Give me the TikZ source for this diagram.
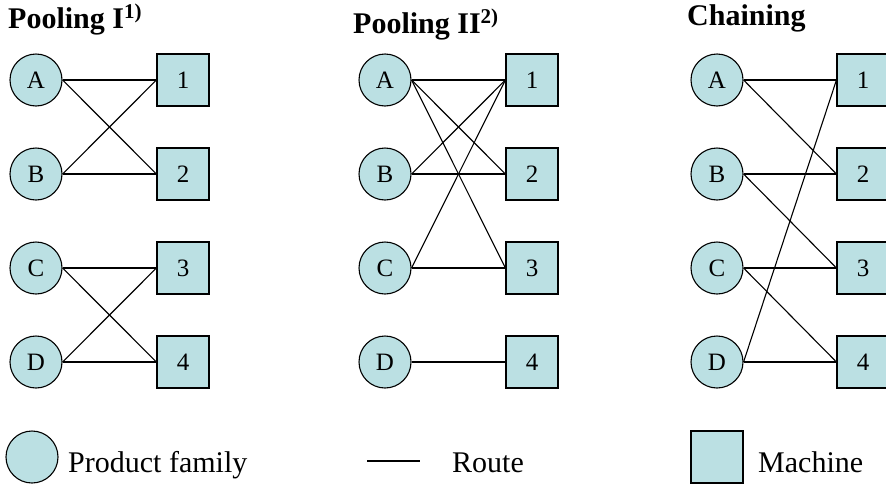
\documentclass[tikz,border=0pt]{standalone}
\usepackage{fontspec}
\setmainfont{Liberation Serif}
\definecolor{famfill}{RGB}{187,224,227}
\begin{document}
\begin{tikzpicture}[x=1pt,y=-1pt,
  fam/.style={circle,draw=black,line width=1.1pt,fill=famfill,minimum size=52pt,inner sep=0pt,font=\fontsize{25}{28}\selectfont},
  mach/.style={rectangle,draw=black,line width=1.1pt,fill=famfill,minimum width=52pt,minimum height=52pt,inner sep=0pt,font=\fontsize{25}{28}\selectfont},
  route/.style={line width=1.1pt},
  ttl/.style={anchor=base west,inner sep=0pt,font=\fontsize{30}{34}\selectfont\bfseries},
  leg/.style={anchor=base west,inner sep=0pt,font=\fontsize{30}{34}\selectfont}]
\clip (0,0) rectangle (886,485);
\useasboundingbox (0,0) rectangle (886,485);
% titles
\node[ttl] (t1) at (8,28) {Pooling I\textsuperscript{1)}};
\node[ttl] (t2) at (353,33) {Pooling II\textsuperscript{2)}};
\node[ttl] (t3) at (687,25) {Chaining};
% column 1
\node[fam] (a1) at (36,80) {A};
\node[fam] (b1) at (36,174) {B};
\node[fam] (c1) at (36,268) {C};
\node[fam] (d1) at (36,362) {D};
\node[mach] (m11) at (183,80) {1};
\node[mach] (m21) at (183,174) {2};
\node[mach] (m31) at (183,268) {3};
\node[mach] (m41) at (183,362) {4};
% column 2
\node[fam] (a2) at (385,80) {A};
\node[fam] (b2) at (385,174) {B};
\node[fam] (c2) at (385,268) {C};
\node[fam] (d2) at (385,362) {D};
\node[mach] (m12) at (532,80) {1};
\node[mach] (m22) at (532,174) {2};
\node[mach] (m32) at (532,268) {3};
\node[mach] (m42) at (532,362) {4};
% column 3
\node[fam] (a3) at (717,80) {A};
\node[fam] (b3) at (717,174) {B};
\node[fam] (c3) at (717,268) {C};
\node[fam] (d3) at (717,362) {D};
\node[mach] (m13) at (863,80) {1};
\node[mach] (m23) at (863,174) {2};
\node[mach] (m33) at (863,268) {3};
\node[mach] (m43) at (863,362) {4};
% routes column 1
\draw[route] (a1.east) -- (m11.west);
\draw[route] (a1.east) -- (m21.west);
\draw[route] (b1.east) -- (m11.west);
\draw[route] (b1.east) -- (m21.west);
\draw[route] (c1.east) -- (m31.west);
\draw[route] (c1.east) -- (m41.west);
\draw[route] (d1.east) -- (m31.west);
\draw[route] (d1.east) -- (m41.west);
% routes column 2
\draw[route] (a2.east) -- (m12.west);
\draw[route] (a2.east) -- (m22.west);
\draw[route] (a2.east) -- (m32.west);
\draw[route] (b2.east) -- (m12.west);
\draw[route] (b2.east) -- (m22.west);
\draw[route] (c2.east) -- (m12.west);
\draw[route] (c2.east) -- (m32.west);
\draw[route] (d2.east) -- (m42.west);
% routes column 3
\draw[route] (a3.east) -- (m13.west);
\draw[route] (a3.east) -- (m23.west);
\draw[route] (b3.east) -- (m23.west);
\draw[route] (b3.east) -- (m33.west);
\draw[route] (c3.east) -- (m33.west);
\draw[route] (c3.east) -- (m43.west);
\draw[route] (d3.east) -- (m13.west);
\draw[route] (d3.east) -- (m43.west);
% legend
\node[fam] (lf) at (32,457) {};
\node[leg] (lft) at (68,472) {Product family};
\coordinate (lr1) at (367,461);
\coordinate (lr2) at (420,461);
\draw[route] (lr1) -- (lr2);
\node[leg] (lrt) at (452,472) {Route};
\node[mach] (lm) at (717,457) {};
\node[leg] (lmt) at (758,472) {Machine};
\end{tikzpicture}
\end{document}
